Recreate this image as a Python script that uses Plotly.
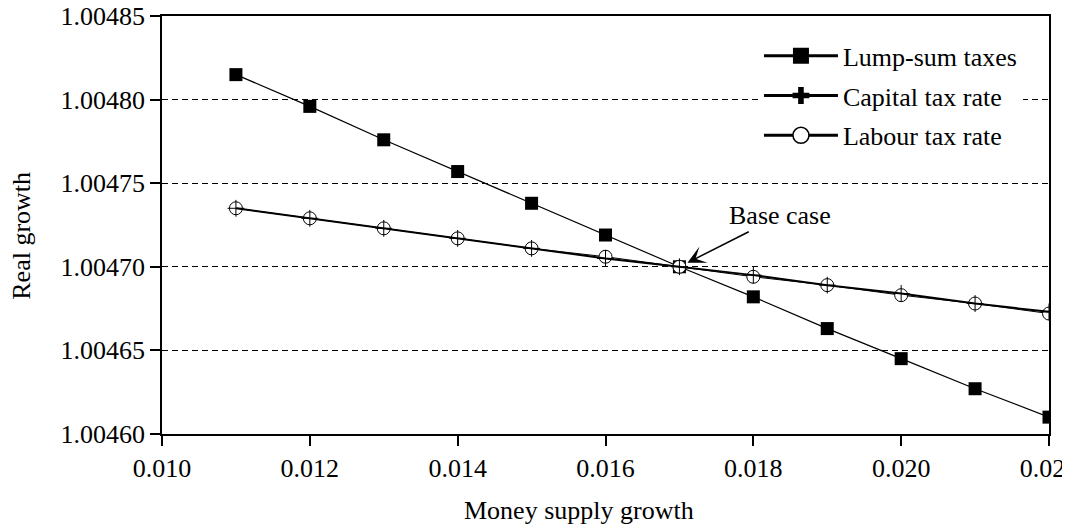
import plotly.graph_objects as go

money_growth = [0.011, 0.012, 0.013, 0.014, 0.015, 0.016, 0.017, 0.018, 0.019, 0.020, 0.021, 0.022]
lump_sum = [1.004815, 1.004796, 1.004776, 1.004757, 1.004738, 1.004719, 1.004700,
            1.004682, 1.004663, 1.004645, 1.004627, 1.004610]
capital_tax = [1.004735, 1.004729, 1.004723, 1.004717, 1.004711, 1.004705, 1.004700,
               1.004695, 1.004689, 1.004684, 1.004678, 1.004673]
labour_tax = [1.004735, 1.004729, 1.004723, 1.004717, 1.004711, 1.004706, 1.004700,
              1.004694, 1.004689, 1.004683, 1.004678, 1.004672]

x_ticks = [0.010, 0.012, 0.014, 0.016, 0.018, 0.020, 0.022]
y_ticks = [1.00460, 1.00465, 1.00470, 1.00475, 1.00480, 1.00485]
y_labels = ["1.00460", "1.00465", "1.00470", "1.00475", "1.00480", "1.00485"]

FONT = "Liberation Serif"
FS = 26

fig = go.Figure()

# plotted series (thin lines)
fig.add_trace(go.Scatter(x=money_growth, y=lump_sum, mode="lines+markers",
                         line=dict(color="black", width=1.2),
                         marker=dict(symbol="square", size=13, color="black"),
                         showlegend=False, name="Lump-sum taxes"))
fig.add_trace(go.Scatter(x=money_growth, y=labour_tax, mode="lines+markers",
                         line=dict(color="black", width=1),
                         marker=dict(symbol="circle", size=13, color="white",
                                     line=dict(color="black", width=1)),
                         showlegend=False, name="Labour tax rate"))
fig.add_trace(go.Scatter(x=money_growth, y=capital_tax, mode="lines+markers",
                         line=dict(color="black", width=2),
                         marker=dict(symbol="cross-thin-open", size=12,
                                     line=dict(color="black", width=1)),
                         showlegend=False, name="Capital tax rate"))

# legend entries (thicker symbols as in the original key)
fig.add_trace(go.Scatter(x=[None], y=[None], mode="lines+markers", name="Lump-sum taxes",
                         legendgroup="a",
                         line=dict(color="black", width=3),
                         marker=dict(symbol="square", size=16, color="black")))
fig.add_trace(go.Scatter(x=[None], y=[None], mode="lines+markers", name="Capital tax rate",
                         legendgroup="b",
                         line=dict(color="black", width=3),
                         marker=dict(symbol="cross", size=14, color="black")))
fig.add_trace(go.Scatter(x=[None], y=[None], mode="lines+markers", name="Labour tax rate",
                         legendgroup="c",
                         line=dict(color="black", width=3),
                         marker=dict(symbol="circle", size=16, color="white",
                                     line=dict(color="black", width=1.5))))

fig.add_annotation(x=0.017, y=1.00470, xref="x", yref="y", text="Base case",
                   showarrow=True, ax=101, ay=-51, arrowhead=3, arrowsize=2,
                   arrowwidth=1.5, arrowcolor="black", standoff=9,
                   font=dict(family=FONT, size=FS, color="black"))

# axis titles
fig.add_annotation(x=0.470, y=-0.184, xref="paper", yref="paper", showarrow=False,
                   text="Money supply growth", xanchor="center", yanchor="middle",
                   font=dict(family=FONT, size=FS, color="black"))
fig.add_annotation(x=-0.158, y=0.474, xref="paper", yref="paper", showarrow=False,
                   text="Real growth", textangle=-90, xanchor="center", yanchor="middle",
                   font=dict(family=FONT, size=FS, color="black"))

fig.update_layout(
    width=1070, height=529,
    margin=dict(l=154, r=29, t=8, b=103),
    paper_bgcolor="white", plot_bgcolor="white",
    font=dict(family=FONT, size=FS, color="black"),
    legend=dict(x=0.673, y=0.961, xanchor="left", yanchor="top",
                bgcolor="white", borderwidth=0, itemwidth=74, tracegroupgap=3,
                font=dict(family=FONT, size=FS, color="black")),
    xaxis=dict(range=[0.010, 0.022], tickvals=x_ticks, tickformat=".3f",
               showline=True, linecolor="black", linewidth=1.5, mirror=True,
               ticks="outside", ticklen=10, tickcolor="black", tickwidth=1.5,
               ticklabeloverflow="allow",
               showgrid=False, zeroline=False, automargin=False),
    yaxis=dict(range=[1.0045999, 1.0048501], tickvals=y_ticks, ticktext=y_labels,
               showline=True, linecolor="black", linewidth=1.5, mirror=True,
               ticks="outside", ticklen=10, tickcolor="black", tickwidth=1.5,
               ticklabeloverflow="allow",
               showgrid=True, gridcolor="black", gridwidth=1, griddash="6px,4px",
               zeroline=False, automargin=False),
)

fig.write_html("out.html")
